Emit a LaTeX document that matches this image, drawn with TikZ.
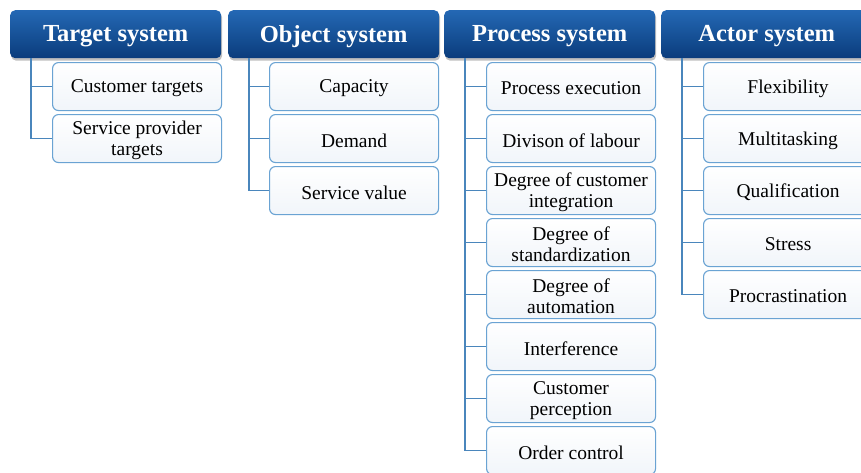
\documentclass[tikz,border=0pt]{standalone}
\usepackage{fontspec}
\setmainfont{Liberation Serif}
\usetikzlibrary{shadows}
\definecolor{hdtop}{HTML}{2468B4}
\definecolor{hdbot}{HTML}{0A3C7C}
\definecolor{boxline}{HTML}{6AA3D3}
\definecolor{conn}{HTML}{4A86BC}
\definecolor{boxtop}{HTML}{FFFFFF}
\definecolor{boxbot}{HTML}{F1F5FA}
\tikzset{
  header/.style={anchor=north west, minimum width=211pt, minimum height=48pt,
    rounded corners=5pt, top color=hdtop, bottom color=hdbot, draw=none,
    inner sep=0pt,
    drop shadow={shadow xshift=1pt, shadow yshift=-2.5pt, opacity=0.35, fill=black!70}},
  headtext/.style={text=white, font=\fontsize{24.5}{27}\selectfont\bfseries, inner sep=0pt},
  item/.style={anchor=north west, minimum width=169pt, minimum height=48pt,
    rounded corners=6pt, draw=boxline, line width=1.1pt, top color=boxtop, bottom color=boxbot},
  itemtext/.style={text=black, font=\fontsize{19.5}{21}\selectfont, align=center, inner sep=0pt},
  link/.style={draw=conn, line width=1.3pt}
}
\newcommand{\hdr}[4]{\node[header] (#1) at (#2,#3) {};
  \node[headtext] (#1-t) at ([yshift=-2pt]#1.center) {#4};}
\newcommand{\itm}[4]{\node[item] (#1) at (#2,#3) {};
  \node[itemtext] (#1-t) at ([yshift=-2pt]#1.center) {#4};}
\begin{document}
\begin{tikzpicture}[x=1pt,y=-1pt]
\useasboundingbox (0,0) rectangle (861,472);
\clip (0,0) rectangle (861,472);
\fill[white] (0,0) rectangle (861,472);
% headers
\hdr{h1}{10}{10}{Target system}
\hdr{h2}{228}{10}{Object system}
\hdr{h3}{444}{10}{Process system}
\hdr{h4}{661}{10}{Actor system}
% column 1
\itm{a1}{52}{62}{Customer targets}
\itm{a2}{52}{114}{Service provider\\targets}
% column 2
\itm{b1}{269}{62}{Capacity}
\itm{b2}{269}{114}{Demand}
\itm{b3}{269}{166}{Service value}
% column 3
\itm{c1}{486}{62}{Process execution}
\itm{c2}{486}{114}{Divison of labour}
\itm{c3}{486}{166}{Degree of customer\\integration}
\itm{c4}{486}{218}{Degree of\\standardization}
\itm{c5}{486}{270}{Degree of\\automation}
\itm{c6}{486}{322}{Interference}
\itm{c7}{486}{374}{Customer\\perception}
\itm{c8}{486}{426}{Order control}
% column 4
\itm{d1}{703}{62}{Flexibility}
\itm{d2}{703}{114}{Multitasking}
\itm{d3}{703}{166}{Qualification}
\itm{d4}{703}{218}{Stress}
\itm{d5}{703}{270}{Procrastination}
% connectors
\foreach \h/\list in {h1/{a1,a2}, h2/{b1,b2,b3}, h3/{c1,c2,c3,c4,c5,c6,c7,c8}, h4/{d1,d2,d3,d4,d5}}{
  \foreach \c in \list {
    \draw[link] ([xshift=21pt]\h.south west) |- (\c.west);
  }
}
\end{tikzpicture}
\end{document}
